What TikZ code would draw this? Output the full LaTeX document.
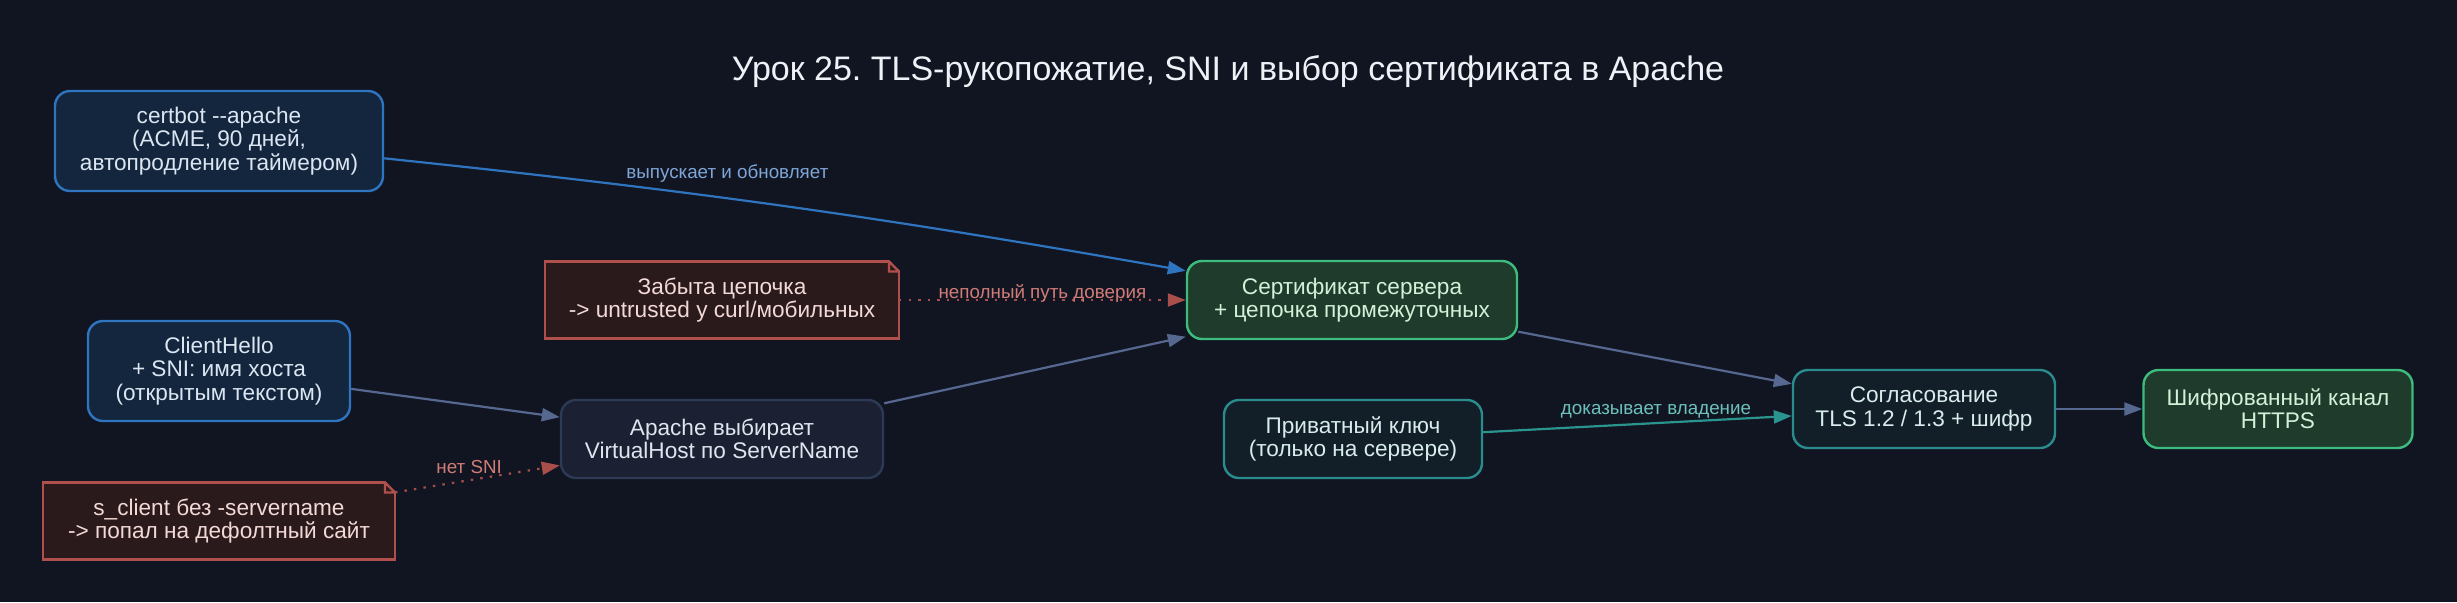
\documentclass[tikz,border=0pt]{standalone}
\usepackage{fontspec}
\setmainfont{Liberation Sans}
\usepackage{tikz}
\usetikzlibrary{arrows.meta,positioning}
\frenchspacing

\definecolor{bgcol}{HTML}{111522}
\definecolor{bluefill}{HTML}{13263D}
\definecolor{blueline}{HTML}{2F74BF}
\definecolor{bluetext}{HTML}{DCE6F2}
\definecolor{greenfill}{HTML}{1F3B2B}
\definecolor{greenline}{HTML}{3DBD7D}
\definecolor{greentext}{HTML}{D5F0D8}
\definecolor{tealfill}{HTML}{121E28}
\definecolor{tealline}{HTML}{2A8C8C}
\definecolor{tealtext}{HTML}{D8ECEC}
\definecolor{greyfill}{HTML}{1B2133}
\definecolor{greyline}{HTML}{2C3A55}
\definecolor{greytext}{HTML}{E0E4EE}
\definecolor{notefill}{HTML}{2B1A1C}
\definecolor{noteline}{HTML}{B0504D}
\definecolor{notetext}{HTML}{F2D9D6}
\definecolor{greyedge}{HTML}{56688F}
\definecolor{blueedge}{HTML}{2F74BF}
\definecolor{rededge}{HTML}{A84E4B}
\definecolor{tealedge}{HTML}{2A958F}
\definecolor{bluelabel}{HTML}{7EA6D6}
\definecolor{redlabel}{HTML}{D27C77}
\definecolor{teallabel}{HTML}{6CC1BB}
\definecolor{titlecol}{HTML}{EEF1F6}

\begin{document}
\begin{tikzpicture}[x=0.5pt, y=0.5pt, >={Triangle[length=9pt,width=6.5pt]}, line width=1.1pt, on grid]
  \tikzstyle{every node}=[font=\fontsize{11.3}{11.6}\selectfont, align=center]
  \tikzstyle{box}=[rectangle, rounded corners=7.5pt, line width=1.2pt, inner sep=0pt, minimum height=39pt]
  \tikzstyle{bluebox}=[box, fill=bluefill, draw=blueline, text=bluetext]
  \tikzstyle{greenbox}=[box, fill=greenfill, draw=greenline, text=greentext]
  \tikzstyle{tealbox}=[box, fill=tealfill, draw=tealline, text=tealtext]
  \tikzstyle{greybox}=[box, fill=greyfill, draw=greyline, text=greytext]
  \tikzstyle{note}=[rectangle, fill=notefill, draw=noteline, line width=1.2pt, text=notetext, outer sep=0pt, minimum height=38.5pt]
  \tikzstyle{edgelabel}=[font=\fontsize{9.4}{10}\selectfont, inner sep=1pt]

  \fill[bgcol] (0,0) rectangle (2457,-602);
  \useasboundingbox (0,0) rectangle (2457,-602);

  \node[text=titlecol, font=\fontsize{17}{19}\selectfont] (title) at (1228,-72)
    {Урок 25. TLS-рукопожатие, SNI и выбор сертификата в Apache};

  \node[bluebox, minimum width=164pt, minimum height=50pt] (certbot) at (219,-141)
    {certbot -{}-apache\\(ACME, 90 дней,\\автопродление таймером)};
  \node[bluebox, minimum width=131pt, minimum height=50pt] (client) [below=115pt of certbot]
    {ClientHello\\+ SNI: имя хоста\\(открытым текстом)};
  \node[note, minimum width=176pt] (nosni) [below=75pt of client]
    {s\_client без -servername\\-> попал на дефолтный сайт};

  \node[greybox, minimum width=161pt] (apache) at (722,-439)
    {Apache выбирает\\VirtualHost по ServerName};
  \node[note, minimum width=177pt] (forgot) [above=69.5pt of apache]
    {Забыта цепочка\\-> untrusted у curl/мобильных};

  \node[greenbox, minimum width=165pt] (cert) [right=315pt of forgot]
    {Сертификат сервера\\+ цепочка промежуточных};
  \node[tealbox, minimum width=129pt] (key) [right=315.5pt of apache]
    {Приватный ключ\\(только на сервере)};

  \node[tealbox, minimum width=131pt] (tls) at (1924,-409)
    {Согласование\\TLS 1.2 / 1.3 + шифр};
  \node[greenbox, minimum width=134.5pt] (https) [right=177pt of tls]
    {Шифрованный канал\\HTTPS};

  % folded corners of the notes
  \foreach \n in {forgot, nosni} {
    \fill[bgcol] ([xshift=-5pt,yshift=1pt]\n.north east) -- ([xshift=1pt,yshift=1pt]\n.north east)
      -- ([xshift=1pt,yshift=-5pt]\n.north east) -- cycle;
    \draw[noteline, line width=1.2pt] ([xshift=-5pt]\n.north east) -- ([yshift=-5pt]\n.north east)
      ([xshift=-5pt]\n.north east) |- ([yshift=-5pt]\n.north east);
  }

  \draw[->, blueedge] (certbot) to[bend left=2]
    node[edgelabel, text=bluelabel, pos=0.42, yshift=12.5pt] {выпускает и обновляет} (cert);
  \draw[->, rededge, dash pattern=on 1.2pt off 3.6pt] (forgot) --
    node[edgelabel, text=redlabel, yshift=3.5pt] {неполный путь доверия} (cert);
  \draw[->, greyedge] (client) -- (apache);
  \draw[->, rededge, dash pattern=on 1.2pt off 3.6pt] (nosni) --
    node[edgelabel, text=redlabel, pos=0.45, yshift=6.5pt] {нет SNI} (apache);
  \draw[->, greyedge] (apache) -- (cert);
  \draw[->, greyedge] (cert) -- (tls);
  \draw[->, tealedge] (key) --
    node[edgelabel, text=teallabel, pos=0.56, yshift=6pt] {доказывает владение} (tls);
  \draw[->, greyedge] (tls) -- (https);
\end{tikzpicture}
\end{document}
